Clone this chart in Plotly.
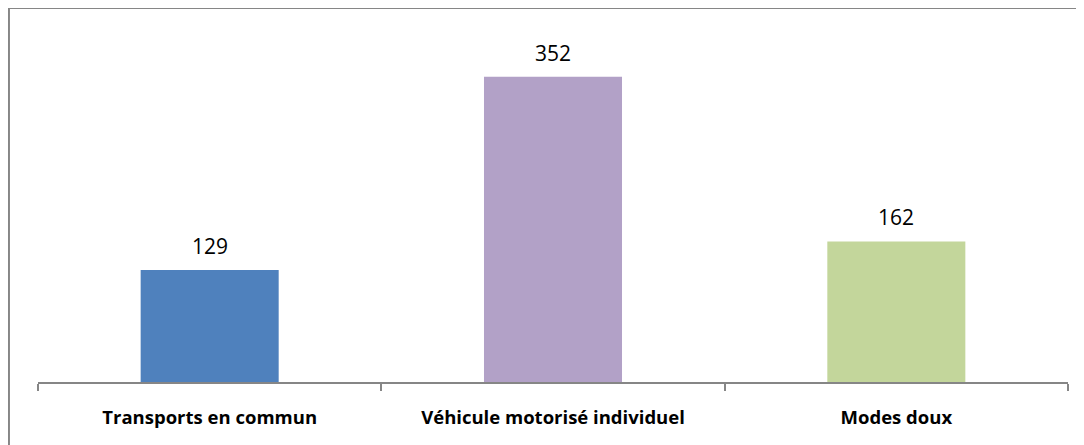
import plotly.graph_objects as go

categories = ["Transports en commun", "Véhicule motorisé individuel", "Modes doux"]
values = [129, 352, 162]
colors = ["#4F81BD", "#B2A1C7", "#C3D69B"]

fig = go.Figure()

fig.add_trace(go.Bar(
    x=categories,
    y=values,
    marker=dict(color=colors, line=dict(width=0)),
    hoverinfo="x+y",
))

# étiquettes de valeurs au-dessus des barres
for cat, val in zip(categories, values):
    fig.add_annotation(
        x=cat, y=val, text=str(val),
        showarrow=False, yanchor="bottom", yshift=8,
        font=dict(family="Open Sans", size=21, color="#000000"),
    )

# cadre du graphique
fig.add_shape(
    type="rect", xref="paper", yref="paper",
    x0=-0.0282, x1=1.2, y0=-0.5, y1=1.0777,
    line=dict(color="#868686", width=2),
    fillcolor="rgba(0,0,0,0)", layer="below",
)

fig.update_layout(
    width=1084,
    height=445,
    margin=dict(l=30, r=24, t=27, b=71),
    paper_bgcolor="white",
    plot_bgcolor="white",
    showlegend=False,
    bargap=0.598,
    font=dict(family="Open Sans", color="#000000"),
)

fig.update_xaxes(
    showline=True, linecolor="#868686", linewidth=1.5,
    ticks="outside", tickson="boundaries", ticklen=7, tickcolor="#868686", tickwidth=1.5,
    tickfont=dict(family="Open Sans", size=18.5, color="#000000", weight="bold"),
    ticklabelstandoff=18,
    showgrid=False,
)
fig.update_yaxes(
    range=[0, 400], visible=False, showgrid=False, zeroline=False,
)

fig.write_html("out.html")
